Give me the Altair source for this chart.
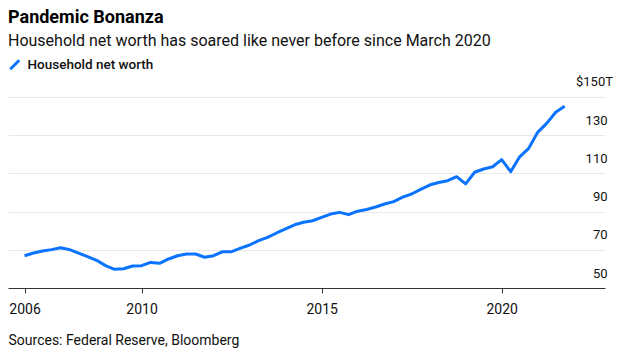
import altair as alt
import pandas as pd

# Household net worth, $ trillions, quarterly (end of quarter), 2006Q3 - 2021Q3
start_year, start_quarter = 2006, 3
net_worth = [
    66.9, 68.3, 69.4, 70.1, 71.1, 70.1, 68.3, 66.4, 64.5, 61.7,
    59.8, 60.1, 61.5, 61.7, 63.4, 62.9, 65.2, 66.9, 67.8, 67.8,
    66.1, 66.9, 69.0, 69.0, 70.9, 72.5, 74.8, 76.5, 78.8, 80.9,
    83.1, 84.4, 85.2, 87.0, 88.7, 89.6, 88.4, 90.2, 91.1, 92.4,
    94.0, 95.2, 97.6, 99.2, 101.6, 103.9, 105.2, 106.2, 108.3, 104.5,
    110.6, 112.3, 113.5, 117.2, 110.9, 118.7, 123.1, 131.5, 136.2, 142.0,
    145.1,
]
series_name = "Household net worth"

x_tick_values = [2006.75, 2010, 2015, 2020]
y_tick_values = [50, 70, 90, 110, 130, 150]
top_label_value = [150]
top_label_text = ["$150T"]

quarters, t_values = [], []
for i in range(len(net_worth)):
    k = (start_quarter - 1) + i
    y, q = start_year + k // 4, k % 4 + 1
    quarters.append(f"{y}Q{q}")
    t_values.append(y + q * 0.25)

df = pd.DataFrame({"quarter": quarters, "t": t_values, "value": net_worth,
                   "series": series_name})
top_df = pd.DataFrame({"value": top_label_value, "label": top_label_text})

FONT = "Roboto"
BLUE = "#0a73ff"
W, H = 597, 191

x_scale = alt.Scale(domain=[2006.29, 2022.87], nice=False, zero=False)
y_scale = alt.Scale(domain=[50, 150], nice=False, zero=False)

line = alt.Chart(df).mark_line(strokeWidth=3, strokeJoin="round").encode(
    x=alt.X("t:Q", scale=x_scale,
            axis=alt.Axis(values=x_tick_values, labelExpr="'' + floor(datum.value)",
                          grid=False, domainColor="#333", domainWidth=1,
                          tickColor="#333", tickSize=5, labelPadding=9,
                          labelFont=FONT, labelFontSize=14, labelColor="#111",
                          labelFlush=False, labelOverlap=False,
                          title="Sources: Federal Reserve, Bloomberg",
                          titleAnchor="start", titleAlign="left", titleX=0, titleY=56,
                          titleBaseline="alphabetic", titleFont=FONT,
                          titleFontSize=14, titleFontWeight="normal", titleColor="#111")),
    y=alt.Y("value:Q", scale=y_scale,
            axis=alt.Axis(orient="right", values=y_tick_values,
                          labelExpr="datum.value == 150 ? '' : datum.value",
                          domain=False, ticks=False, grid=True,
                          gridColor="#e8e8e8", gridWidth=1,
                          labelAlign="right", labelBaseline="alphabetic",
                          labelOffset=-11, labelPadding=2,
                          labelFont=FONT, labelFontSize=13, labelColor="#111",
                          labelOverlap=False, labelFlush=False, title=None)),
    color=alt.Color("series:N", scale=alt.Scale(range=[BLUE]),
                    legend=alt.Legend(orient="none", legendX=0, legendY=-39,
                                      title=None, symbolType="M-1,1L1,-1",
                                      symbolSize=80, symbolStrokeWidth=3,
                                      labelFont=FONT, labelFontSize=13.5,
                                      labelFontWeight=500, labelColor="#111",
                                      labelOffset=6, padding=0)),
)

top_text = alt.Chart(top_df).mark_text(
    align="left", baseline="alphabetic", dy=-11, font=FONT, fontSize=13, color="#111"
).encode(
    y=alt.Y("value:Q", scale=y_scale, axis=None),
    x=alt.value(W - 29),
    text="label:N",
)

chart = alt.layer(line, top_text).resolve_axis(y="independent").properties(
    width=W, height=H,
    title=alt.TitleParams(text="Pandemic Bonanza",
                          subtitle="Household net worth has soared like never before since March 2020",
                          anchor="start", font=FONT, fontSize=18, fontWeight="bold",
                          color="#000", subtitleFont=FONT, subtitleFontSize=16,
                          subtitleColor="#111", subtitlePadding=6, offset=9),
    padding={"left": 0, "top": 1, "right": 0, "bottom": 4},
).configure_view(stroke=None)

chart.save("out.html", embed_options={"renderer": "svg", "actions": False})
